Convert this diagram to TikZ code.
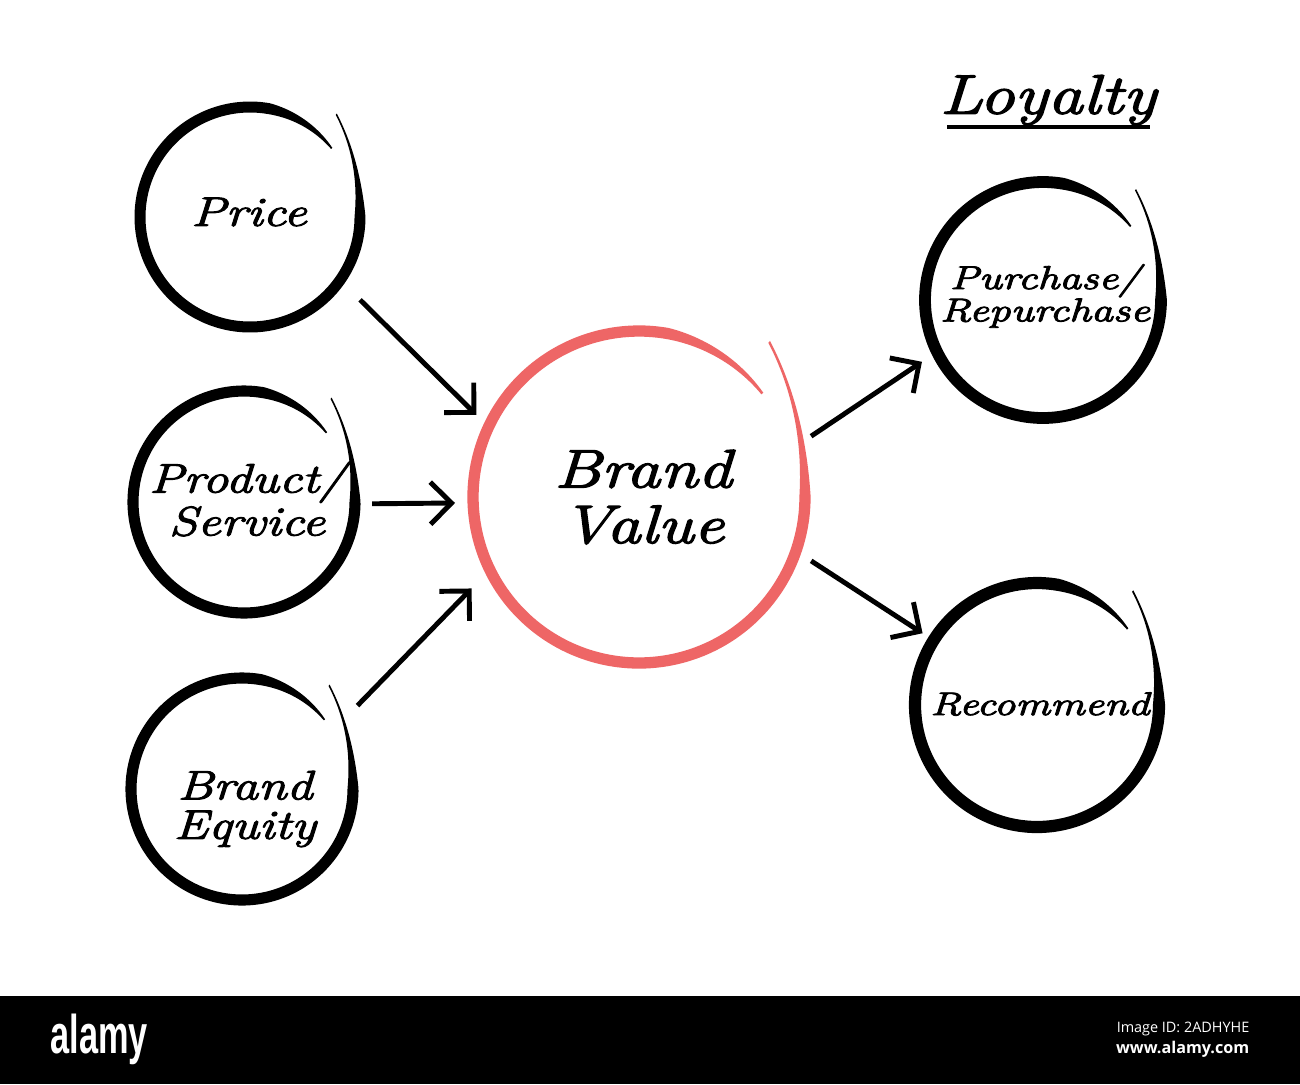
\documentclass[tikz,border=0pt]{standalone}
\usepackage{fontspec}
\usetikzlibrary{arrows.meta}
\newfontfamily\handfont{Latin Modern Roman}[FakeStretch=1.26,FakeBold=2.6]
\newfontfamily\logofont{Liberation Sans}[FakeStretch=0.63]
\newfontfamily\idfont{Open Sans}
\definecolor{brandred}{RGB}{238,102,102}
\newcommand\handring[4]{%
  \begin{scope}[shift={(#1.center)}, scale=#2, yscale=-1]
    \fill[#3] plot[domain=50:-320, samples=240, variable=\t]
        ({(hr(\t)+hw(\t,#4)/2)*cos(\t)}, {(hr(\t)+hw(\t,#4)/2)*sin(\t)})
      -- plot[domain=-320:50, samples=240, variable=\t]
        ({(hr(\t)-hw(\t,#4)/2)*cos(\t)}, {(hr(\t)-hw(\t,#4)/2)*sin(\t)})
      -- cycle;
  \end{scope}}
\begin{document}
\begin{tikzpicture}[x=0.01cm, y=-0.01cm,
  declare function={
    tailf(\a)=max(0,\a)/50;
    endf(\a)=max(0,-280-\a)/40;
    hr(\a)=1+0.22*tailf(\a)*tailf(\a)-0.03*endf(\a);
    hw(\a,\b)=0.015+(\b-0.015)*(1-tailf(\a))*(1-tailf(\a))*(1-endf(\a));
  },
  ring/.style={circle, inner sep=0pt, outer sep=0pt},
  lbl/.style={inner sep=0pt, align=center,
    font=\handfont\itshape\fontsize{11.7}{12.2}\selectfont},
  arr/.style={line width=1.4pt, -{Straight Barb[length=6pt,width=12pt]}}]
\useasboundingbox (0,0) rectangle (1300,1084);
\fill[white] (0,0) rectangle (1300,1084);

% ring nodes
\node[ring, minimum size=2.2cm] (price) at (250,217) {};
\node[ring, minimum size=2.22cm] (prod) at (244,502) {};
\node[ring, minimum size=2.22cm] (equity) at (242,789) {};
\node[ring, minimum size=3.32cm] (bv) at (639,497) {};
\node[ring, minimum size=2.36cm] (purch) at (1043,300) {};
\node[ring, minimum size=2.44cm] (rec) at (1037,705) {};

% labels
\node[lbl] (priceT) at (249,212) {Price};
\node[lbl] (prodT) at (247,499) {Product/\\Service};
\node[lbl, font=\handfont\itshape\fontsize{11.7}{11.2}\selectfont] (equityT) at (245,809) {Brand\\Equity};
\node[lbl, font=\handfont\itshape\fontsize{15.4}{15.8}\selectfont] (bvT) at (643,497) {Brand\\Value};
\node[lbl, font=\handfont\itshape\fontsize{9.4}{9.2}\selectfont] (purchT) at (1045,296) {Purchase/\\Repurchase};
\node[lbl, font=\handfont\itshape\fontsize{9.3}{10}\selectfont] (recT) at (1040,704) {Recommend};
\node[lbl, font=\handfont\itshape\fontsize{15.8}{16}\selectfont] (loyal) at (1048,100) {Loyalty};
\draw[line width=0.9pt] (947,127) -- (1150,127);

% rings
\handring{price}{110}{black}{0.1}
\handring{prod}{111}{black}{0.1}
\handring{equity}{111}{black}{0.1}
\handring{bv}{166}{brandred}{0.068}
\handring{purch}{118}{black}{0.1}
\handring{rec}{122}{black}{0.1}

% arrows
\draw[arr, shorten <=2.8mm, shorten >=1.7mm] (price.-35) -- (bv.155.4);
\draw[arr, shorten <=1.7mm, shorten >=1.8mm] (prod.-1.5) -- (bv.182.8);
\draw[arr, shorten <=3.2mm, shorten >=2.6mm] (equity.33.6) -- (bv.206.6);
\draw[arr, shorten <=1.7mm, shorten >=1.8mm] (bv.18.4) -- (purch.206.2);
\draw[arr, shorten <=1.8mm, shorten >=1.3mm] (bv.-19.4) -- (rec.148.4);

% bottom bar
\fill[black] (0,996) rectangle (1300,1084);
\node[text=white, inner sep=0pt, anchor=base west, font=\logofont\bfseries\fontsize{15.5}{16}\selectfont] (logo) at (50,1053) {alamy};
\node[text=white, inner sep=0pt, anchor=base east, font=\idfont\fontsize{4.1}{5}\selectfont] (imgid) at (1250,1032) {Image ID: 2ADHYHE};
\node[text=white, inner sep=0pt, anchor=base east, font=\idfont\bfseries\fontsize{4.6}{5}\selectfont] (www) at (1250,1053) {www.alamy.com};
\end{tikzpicture}
\end{document}
